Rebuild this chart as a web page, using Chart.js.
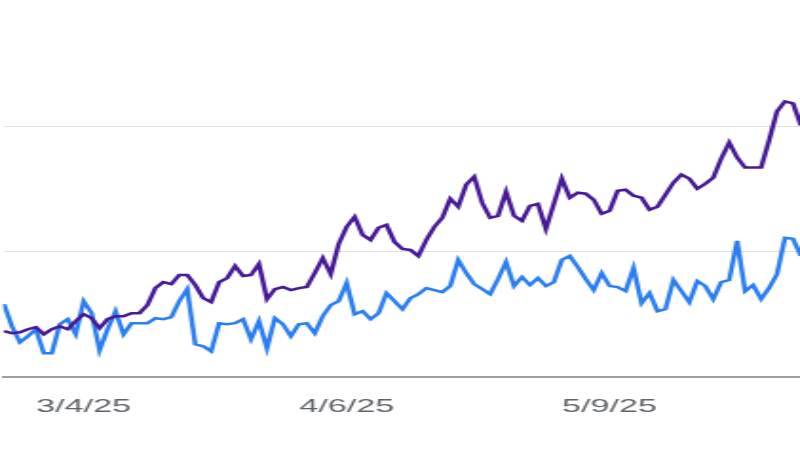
<!DOCTYPE html>
<html>
<head>
<meta charset="utf-8">
<script src="https://cdn.jsdelivr.net/npm/chart.js@4"></script>
<style>
  html, body { margin: 0; padding: 0; background: #fff; overflow: hidden; }
  /* the reference is a horizontally stretched screenshot */
  #wrap { width: 421px; height: 450px; transform: scaleX(1.9); transform-origin: 0 0; }
</style>
</head>
<body>
<div id="wrap"><canvas id="chart" width="421" height="450"></canvas></div>
<script>
// one value per day, day 0 = 2/22/25
const tickDays = [10, 43, 76];
const tickLabels = ["3/4/25", "4/6/25", "5/9/25"];

const purpleSeries = [
  18.4, 17.6, 18.0, 19.2, 20.0, 17.2, 19.2, 20.4, 19.2, 22.4,
  25.2, 23.6, 19.6, 23.2, 24.4, 24.4, 25.6, 25.6, 28.8, 35.6,
  38.0, 37.2, 40.8, 40.8, 36.8, 31.6, 30.0, 38.0, 39.6, 44.4,
  40.4, 40.8, 45.2, 31.2, 35.2, 36.0, 34.8, 35.6, 36.0, 41.6,
  47.6, 41.2, 53.2, 60.0, 64.0, 56.8, 54.8, 59.6, 60.8, 54.0,
  51.2, 50.8, 48.4, 54.8, 60.0, 63.6, 71.2, 68.0, 76.8, 80.0,
  69.6, 63.6, 64.4, 74.0, 64.4, 62.4, 68.4, 69.2, 59.2, 69.2,
  79.2, 71.6, 73.6, 73.2, 70.8, 65.2, 66.4, 74.4, 74.8, 72.4,
  71.6, 66.8, 68.0, 72.8, 77.6, 80.8, 79.2, 75.2, 77.2, 79.6,
  87.2, 93.6, 87.6, 83.6, 83.6, 83.6, 94.4, 106.0, 110.0, 109.2,
  100.4
];

const blueSeries = [
  29.2, 20.4, 14.0, 16.4, 19.2, 9.6, 9.6, 21.2, 23.2, 17.2,
  30.4, 25.6, 10.8, 19.2, 26.4, 17.2, 21.6, 21.6, 21.6, 23.6,
  23.2, 24.0, 30.4, 35.2, 13.2, 12.4, 10.4, 21.6, 21.2, 21.6,
  23.2, 15.2, 22.4, 11.6, 23.6, 21.2, 16.4, 21.2, 21.6, 17.6,
  24.4, 28.8, 30.4, 37.6, 25.2, 26.4, 23.2, 25.6, 33.6, 30.4,
  27.2, 31.6, 33.2, 35.6, 34.8, 34.0, 36.4, 46.8, 41.6, 37.2,
  35.2, 33.2, 39.2, 46.0, 36.4, 40.0, 36.8, 39.6, 36.4, 38.0,
  46.8, 48.4, 44.0, 39.2, 34.8, 41.6, 36.4, 36.0, 34.4, 43.6,
  29.6, 33.6, 26.4, 27.2, 38.8, 34.4, 30.0, 38.4, 36.4, 31.2,
  38.0, 38.8, 54.4, 34.4, 36.8, 31.2, 35.6, 41.2, 55.6, 55.2,
  48.4
];

const toPoints = (arr) => arr.map((v, i) => ({ x: i, y: v }));

new Chart(document.getElementById("chart"), {
  type: "line",
  data: {
    datasets: [
      {
        data: toPoints(purpleSeries),
        borderColor: "#461a96",
        borderWidth: 2.5,
        pointRadius: 0,
        tension: 0
      },
      {
        data: toPoints(blueSeries),
        borderColor: "#2a7ef0",
        borderWidth: 2.5,
        pointRadius: 0,
        tension: 0
      }
    ]
  },
  options: {
    responsive: false,
    animation: false,
    layout: { padding: { top: 1, bottom: 13, left: 0, right: 0 } },
    plugins: { legend: { display: false }, tooltip: { enabled: false } },
    scales: {
      x: {
        type: "linear",
        min: -0.125,
        max: 99.875,
        afterBuildTicks: (scale) => {
          scale.ticks = tickDays.map(v => ({ value: v }));
        },
        ticks: {
          autoSkip: false,
          maxRotation: 0,
          padding: 19,
          color: "#5f6368",
          font: { family: "'Liberation Sans', Arial, sans-serif", size: 18 },
          callback: (value) => tickLabels[tickDays.indexOf(value)] ?? ""
        },
        grid: { display: false, drawTicks: false },
        border: { display: true, color: "#9e9e9e", width: 2 }
      },
      y: {
        min: 0,
        max: 150,
        ticks: { display: false, stepSize: 50 },
        grid: {
          drawTicks: false,
          color: (ctx) => (ctx.tick.value === 50 || ctx.tick.value === 100) ? "#e0e0e0" : "rgba(0,0,0,0)"
        },
        border: { display: false }
      }
    }
  }
});
</script>
</body>
</html>
